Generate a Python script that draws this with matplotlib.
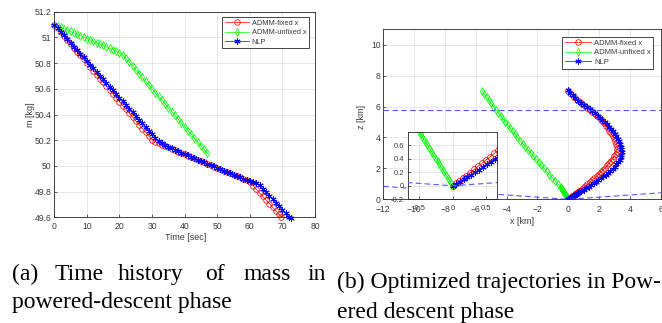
import matplotlib
matplotlib.use('Agg')
import matplotlib.pyplot as plt
from matplotlib.ticker import FuncFormatter

plt.rcParams['font.family'] = ['Liberation Sans', 'DejaVu Sans']

# ---------------- data: (a) mass history ----------------
red_t = list(range(70)) + [69.6]
red_m = [51.100, 51.070, 51.040, 51.010, 50.980, 50.950, 50.920, 50.890, 50.860, 50.830,
         50.800, 50.770, 50.740, 50.710, 50.680, 50.650, 50.620, 50.590, 50.560, 50.530,
         50.500, 50.470, 50.440, 50.410, 50.380, 50.350, 50.320, 50.290, 50.262, 50.232,
         50.205, 50.188, 50.176, 50.165, 50.154, 50.144, 50.133, 50.122, 50.112, 50.101,
         50.091, 50.080, 50.069, 50.059, 50.048, 50.038, 50.027, 50.016, 50.006, 49.995,
         49.985, 49.974, 49.963, 49.953, 49.942, 49.932, 49.921, 49.910, 49.900, 49.889,
         49.872, 49.846, 49.818, 49.790, 49.762, 49.734, 49.706, 49.678, 49.650, 49.622,
         49.605]
blue_t = list(range(73)) + [72.5]
blue_m = [51.100, 51.072, 51.043, 51.015, 50.986, 50.958, 50.929, 50.901, 50.872, 50.844,
          50.815, 50.787, 50.758, 50.730, 50.701, 50.673, 50.644, 50.616, 50.587, 50.559,
          50.530, 50.502, 50.473, 50.445, 50.416, 50.388, 50.359, 50.331, 50.302, 50.274,
          50.246, 50.220, 50.196, 50.178, 50.162, 50.149, 50.137, 50.125, 50.114, 50.103,
          50.092, 50.081, 50.070, 50.060, 50.049, 50.039, 50.028, 50.017, 50.007, 49.996,
          49.986, 49.975, 49.964, 49.954, 49.943, 49.933, 49.922, 49.911, 49.901, 49.891,
          49.882, 49.874, 49.865, 49.848, 49.821, 49.794, 49.767, 49.740, 49.713, 49.686,
          49.659, 49.632, 49.605, 49.592]
green_t = list(range(48))
green_m = [51.100, 51.089, 51.078, 51.067, 51.056, 51.046, 51.035, 51.024, 51.013, 51.002,
           50.991, 50.980, 50.969, 50.958, 50.947, 50.937, 50.926, 50.915, 50.904, 50.893,
           50.880, 50.862, 50.836, 50.806, 50.777, 50.747, 50.718, 50.688, 50.659, 50.629,
           50.600, 50.570, 50.541, 50.511, 50.482, 50.452, 50.423, 50.393, 50.364, 50.334,
           50.305, 50.275, 50.246, 50.216, 50.187, 50.157, 50.128, 50.098]

# ---------------- data: (b) trajectories (x [km], z [km]) ----------------
red_xz = [(0.00, 0.000), (0.05, 0.035), (0.10, 0.073), (0.15, 0.110), (0.20, 0.148),
          (0.26, 0.195), (0.32, 0.242), (0.38, 0.288), (0.44, 0.335), (0.50, 0.382),
          (0.56, 0.430), (0.62, 0.477), (0.68, 0.525),
          (0.80, 0.62), (0.95, 0.74), (1.10, 0.86), (1.25, 0.98), (1.40, 1.10), (1.55, 1.23),
          (1.70, 1.36), (1.84, 1.49), (1.98, 1.62), (2.12, 1.76), (2.26, 1.90), (2.40, 2.04),
          (2.53, 2.19), (2.66, 2.34), (2.78, 2.49), (2.89, 2.64), (2.99, 2.79), (3.08, 2.94),
          (3.15, 3.09), (3.19, 3.25), (3.17, 3.42), (3.13, 3.60), (3.06, 3.77), (2.98, 3.94),
          (2.88, 4.11), (2.78, 4.28), (2.67, 4.45), (2.55, 4.61), (2.43, 4.77), (2.30, 4.93),
          (2.17, 5.08), (2.03, 5.23), (1.88, 5.38), (1.73, 5.52), (1.57, 5.66), (1.41, 5.79),
          (1.25, 5.92), (1.08, 6.05), (0.91, 6.18), (0.74, 6.31), (0.56, 6.44), (0.38, 6.60),
          (0.19, 6.80), (0.00, 7.02)]
green_xz = [(0.000, 0.00), (-0.025, 0.04), (-0.050, 0.08), (-0.075, 0.12), (-0.100, 0.16),
            (-0.125, 0.20), (-0.150, 0.24), (-0.175, 0.28), (-0.200, 0.32), (-0.225, 0.36),
            (-0.250, 0.40), (-0.275, 0.44), (-0.300, 0.48), (-0.325, 0.52), (-0.350, 0.56),
            (-0.375, 0.60), (-0.400, 0.64), (-0.425, 0.68), (-0.450, 0.72), (-0.475, 0.76),
            (-0.50, 0.80), (-0.68, 1.00), (-0.86, 1.20), (-1.04, 1.40), (-1.22, 1.60),
            (-1.40, 1.80), (-1.58, 2.00), (-1.75, 2.20), (-1.92, 2.40), (-2.10, 2.60),
            (-2.27, 2.80), (-2.44, 3.00), (-2.61, 3.20), (-2.78, 3.40), (-2.96, 3.60),
            (-3.13, 3.80), (-3.30, 4.00), (-3.46, 4.20), (-3.61, 4.40), (-3.77, 4.60),
            (-3.92, 4.80), (-4.08, 5.00), (-4.23, 5.20), (-4.39, 5.40), (-4.54, 5.60),
            (-4.70, 5.80), (-4.85, 6.00), (-5.00, 6.20), (-5.14, 6.40), (-5.29, 6.60),
            (-5.44, 6.80), (-5.58, 7.00)]
blue_xz = [(0.00, 0.000), (0.055, 0.030), (0.11, 0.062), (0.165, 0.095), (0.22, 0.128),
           (0.275, 0.162), (0.33, 0.198), (0.39, 0.236), (0.45, 0.276), (0.51, 0.316),
           (0.57, 0.357), (0.63, 0.400), (0.69, 0.445),
           (0.85, 0.53), (1.00, 0.62), (1.16, 0.72), (1.32, 0.82), (1.48, 0.93), (1.64, 1.03),
           (1.80, 1.14), (1.96, 1.25), (2.12, 1.36), (2.28, 1.48), (2.44, 1.60), (2.59, 1.72),
           (2.74, 1.85), (2.88, 1.98), (3.01, 2.12), (3.13, 2.26), (3.24, 2.41), (3.33, 2.56),
           (3.40, 2.72), (3.45, 2.89), (3.47, 3.07), (3.45, 3.24), (3.41, 3.41), (3.36, 3.58),
           (3.29, 3.75), (3.21, 3.92), (3.12, 4.08), (3.02, 4.24), (2.91, 4.40), (2.79, 4.55),
           (2.66, 4.70), (2.52, 4.85), (2.37, 5.00), (2.22, 5.14), (2.06, 5.28), (1.90, 5.42),
           (1.73, 5.56), (1.56, 5.69), (1.38, 5.82), (1.20, 5.96), (1.02, 6.10), (0.84, 6.24),
           (0.66, 6.39), (0.47, 6.55), (0.28, 6.72), (0.10, 6.90), (0.00, 7.05)]
glide_x = [-12.0, 0.0, 6.0]
glide_z = [0.84, 0.0, 0.42]
alt_x = [-12.0, 6.0]
alt_z = [5.8, 5.8]

labels = ['ADMM-fixed x', 'ADMM-unfixed x', 'NLP']

RED, GREEN, BLUE = (1, 0, 0), (0, 1, 0), (0, 0, 1)
DASH = (0.35, 0.35, 1.0)
TXT = '#3a3a3a'

fig = plt.figure(figsize=(6.62, 3.23), dpi=100)


def style(ax, fs=6.2, pad=2.0):
    for sp in ax.spines.values():
        sp.set_color('#262626')
        sp.set_linewidth(0.6)
    ax.tick_params(direction='in', length=2.5, width=0.5, colors='#262626',
                   labelcolor=TXT, labelsize=fs, pad=pad)
    ax.grid(True, color='#dedede', lw=0.5)
    ax.set_axisbelow(True)


fmt = FuncFormatter(lambda v, p: '%g' % round(v, 6))

# ---------------- (a) ----------------
ax1 = fig.add_axes([54.3 / 662, 1 - 217.3 / 323, (315 - 54.3) / 662, (217.3 - 11.7) / 323])
style(ax1)
ax1.tick_params(axis='x', pad=3.5)
ax1.plot(red_t, red_m, '-', color=RED, lw=0.5, marker='o', ms=4.0, mfc='none',
         mew=0.55, label=labels[0], clip_on=False)
ax1.plot(green_t, green_m, '-', color=GREEN, lw=0.5, marker='d', ms=4.2, mfc='none',
         mew=0.55, label=labels[1], clip_on=False)
ax1.plot(blue_t, blue_m, '-', color=BLUE, lw=0.5, marker=(6, 2, 0), ms=4.5,
         mew=0.7, label=labels[2], clip_on=False)
ax1.set_xlim(0, 80)
ax1.set_ylim(49.6, 51.2)
ax1.set_xticks(range(0, 81, 10))
ax1.set_yticks([49.6, 49.8, 50.0, 50.2, 50.4, 50.6, 50.8, 51.0, 51.2])
ax1.yaxis.set_major_formatter(fmt)
ax1.set_xlabel('Time [sec]', fontsize=6.5, color=TXT, va='center')
ax1.set_ylabel('m [kg]', fontsize=6.5, color=TXT, va='center')
ax1.xaxis.set_label_coords(0.505, -0.099)
ax1.yaxis.set_label_coords(-0.093, 0.5)
leg1 = ax1.legend(loc='upper right', bbox_to_anchor=(309 / 662, 1 - 17.3 / 323),
                  bbox_transform=fig.transFigure, fontsize=5.3, handlelength=3.3,
                  handletextpad=0.4, labelspacing=0.3, borderpad=0.35, borderaxespad=0,
                  fancybox=False, framealpha=1, edgecolor='#262626', numpoints=1)
leg1.get_frame().set_linewidth(0.6)
for t in leg1.get_texts():
    t.set_color(TXT)

# ---------------- (b) ----------------
rx, rz = zip(*red_xz)
gx, gz = zip(*green_xz)
bx, bz = zip(*blue_xz)

ax2 = fig.add_axes([383.3 / 662, 1 - 199.3 / 323, (660.7 - 383.3) / 662, (199.3 - 29.3) / 323])
style(ax2)
ax2.tick_params(axis='x', pad=4.0)
ax2.plot(rx, rz, '-', color=RED, lw=0.5, marker='o', ms=4.0, mfc='none', mew=0.55,
         label=labels[0])
ax2.plot(gx, gz, '-', color=GREEN, lw=0.5, marker='d', ms=4.2, mfc='none', mew=0.55,
         label=labels[1])
ax2.plot(bx, bz, '-', color=BLUE, lw=0.5, marker=(6, 2, 0), ms=4.5, mew=0.7,
         label=labels[2])
ax2.plot(glide_x, glide_z, '--', color=DASH, lw=0.8, dashes=(5, 3), zorder=5)
ax2.plot(alt_x, alt_z, '--', color=DASH, lw=0.8, dashes=(5, 3), zorder=5)
ax2.set_xlim(-12, 6)
ax2.set_ylim(0, 11)
ax2.set_xticks(range(-12, 7, 2))
ax2.set_yticks(range(0, 11, 2))
ax2.set_xlabel('x [km]', fontsize=6.5, color=TXT, va='center')
ax2.set_ylabel('z [km]', fontsize=6.5, color=TXT, va='center')
ax2.xaxis.set_label_coords(0.499, -0.128)
ax2.yaxis.set_label_coords(-0.078, 0.486)
leg2 = ax2.legend(loc='upper right', bbox_to_anchor=(653.3 / 662, 1 - 36.7 / 323),
                  bbox_transform=fig.transFigure, fontsize=5.5, handlelength=3.4,
                  handletextpad=0.4, labelspacing=0.3, borderpad=0.35, borderaxespad=0,
                  fancybox=False, framealpha=1, edgecolor='#262626', numpoints=1)
leg2.get_frame().set_linewidth(0.6)
for t in leg2.get_texts():
    t.set_color(TXT)

# inset
ax3 = fig.add_axes([408.3 / 662, 1 - 199.3 / 323, (497 - 408.3) / 662, (199.3 - 132.3) / 323])
style(ax3, fs=5.5, pad=3.0)
ax3.tick_params(axis='x', pad=4.0)
ax3.plot(rx, rz, '-', color=RED, lw=0.5, marker='o', ms=4.2, mfc='none', mew=0.55)
ax3.plot(gx, gz, '-', color=GREEN, lw=0.5, marker='d', ms=4.2, mfc='none', mew=0.55)
ax3.plot(bx, bz, '-', color=BLUE, lw=0.5, marker=(6, 2, 0), ms=4.5, mew=0.7)
ax3.plot(glide_x, glide_z, '--', color=DASH, lw=0.8, dashes=(5, 3), zorder=5)
ax3.set_xlim(-0.66, 0.66)
ax3.set_ylim(-0.2, 0.79)
ax3.set_xticks([-0.5, 0, 0.5])
ax3.set_yticks([-0.2, 0, 0.2, 0.4, 0.6])
ax3.xaxis.set_major_formatter(fmt)
ax3.yaxis.set_major_formatter(fmt)

# ---------------- captions ----------------
cap = dict(family=['Liberation Serif', 'DejaVu Serif'], fontsize=17, color='black',
           va='baseline', ha='left')
line1_words = ['(a)', 'Time', 'history', 'of', 'mass', 'in']
line1_x = [12.0, 55.0, 117.3, 204.7, 243.3, 307.0]
for w, xw in zip(line1_words, line1_x):
    fig.text(xw / 662, 1 - 280 / 323, w, **cap)
fig.text(12 / 662, 1 - 308 / 323, 'powered-descent phase', **cap)
fig.text(337.3 / 662, 1 - 288.3 / 323, '(b) Optimized trajectories in Pow-', **cap)
fig.text(337.3 / 662, 1 - 318.3 / 323, 'ered descent phase', **cap)

fig.savefig('out.png', dpi=100)
